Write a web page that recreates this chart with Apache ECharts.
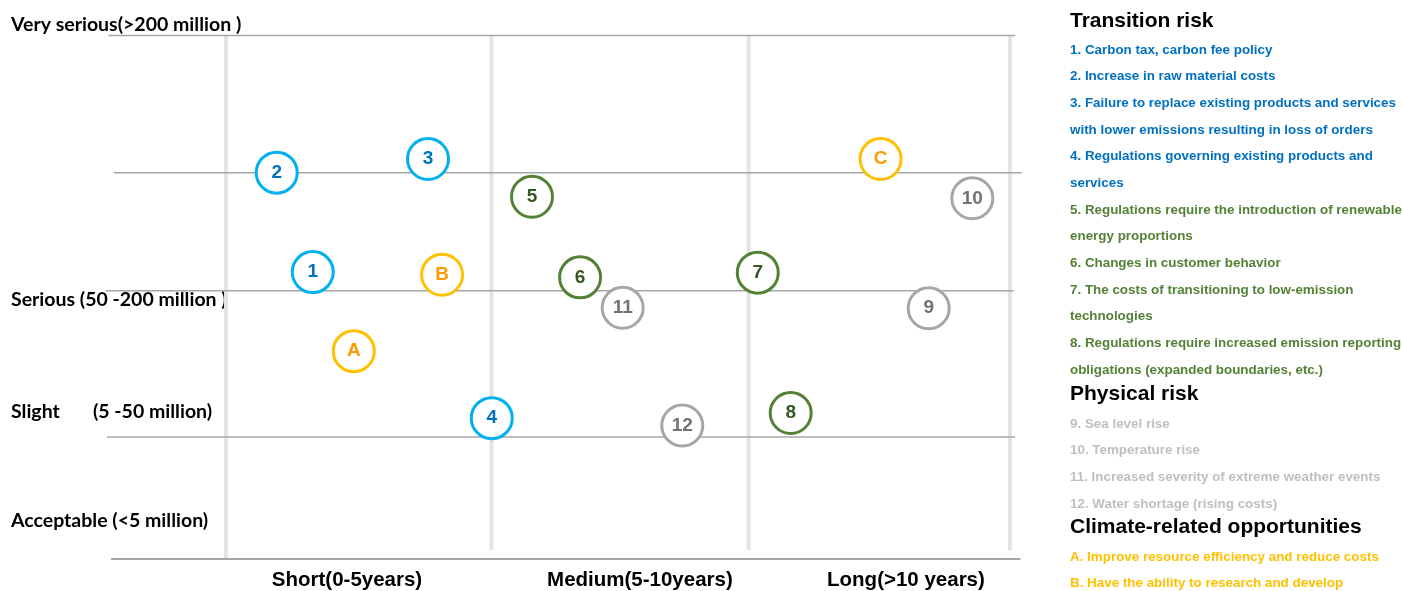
<!DOCTYPE html>
<html>
<head>
<meta charset="utf-8">
<script src="https://cdn.jsdelivr.net/npm/echarts@6/dist/echarts.min.js"></script>
<style>
  html, body { margin: 0; padding: 0; background: #ffffff; }
  #chart { width: 1402px; height: 591px; }
</style>
</head>
<body>
<div id="chart"></div>
<script>
// Time horizon (x) and financial impact (y) scales
const periodLabels = ['Short(0-5years)', 'Medium(5-10years)', 'Long(>10 years)'];
const periodLabelAt = [0.463, 1.584, 2.602];
const periodBounds = [0, 1.016, 2.0, 3.0];
const periodBoundBottoms = [0, 1.7, 1.7, 1.7];

const severityLabels = ['Very serious(>200 million )', 'Serious (50 -200 million )', 'Slight       (5 -50 million)', 'Acceptable (<5 million)'];
const severityLabelAt = [102.0, 49.5, 28.1, 7.3];
const bandLevels = [100, 73.8, 51.25, 23.3, 0];
const bandStarts = [-0.45, -0.43, -0.46, -0.455, -0.44];
const bandEnds = [3.02, 3.045, 3.015, 3.02, 3.04];

// Transition risk: policy & market (1-4)
const policyIds = ['1', '2', '3', '4'];
const policyHorizon = [0.332, 0.194, 0.773, 1.017];
const policyImpact = [54.8, 73.8, 76.4, 26.9];

// Transition risk: regulation, customers & technology (5-8)
const regulationIds = ['5', '6', '7', '8'];
const regulationHorizon = [1.171, 1.355, 2.035, 2.161];
const regulationImpact = [69.2, 53.8, 54.7, 27.9];

// Physical risk (9-12)
const physicalIds = ['9', '10', '11', '12'];
const physicalHorizon = [2.689, 2.856, 1.518, 1.746];
const physicalImpact = [47.9, 68.9, 48.0, 25.5];

// Climate-related opportunities (A-C)
const opportunityIds = ['A', 'B', 'C'];
const opportunityHorizon = [0.489, 0.827, 2.505];
const opportunityImpact = [39.7, 54.3, 76.4];

// Key texts
const transitionTitle = 'Transition risk';
const transitionBlueLines = [
  '1. Carbon tax, carbon fee policy',
  '2. Increase in raw material costs',
  '3. Failure to replace existing products and services',
  'with lower emissions resulting in loss of orders',
  '4. Regulations governing existing products and',
  'services'
];
const transitionGreenLines = [
  '5. Regulations require the introduction of renewable',
  'energy proportions',
  '6. Changes in customer behavior',
  '7. The costs of transitioning to low-emission',
  'technologies',
  '8. Regulations require increased emission reporting',
  'obligations (expanded boundaries, etc.)'
];
const physicalTitle = 'Physical risk';
const physicalLines = [
  '9. Sea level rise',
  '10. Temperature rise',
  '11. Increased severity of extreme weather events',
  '12. Water shortage (rising costs)'
];
const opportunityTitle = 'Climate-related opportunities';
const opportunityLines = [
  'A. Improve resource efficiency and reduce costs',
  'B. Have the ability to research and develop'
];

const palette = {
  blueRing: '#00b0f0', blueText: '#0070c0',
  greenRing: '#538135', greenText: '#375623',
  grayRing: '#a6a6a6', grayText: '#767171', grayKey: '#bfbfbf',
  orangeRing: '#ffc000', orangeText: '#ff9900', orangeKey: '#ffc000'
};

function points(xs, ys, ids) {
  return ids.map((id, i) => ({ name: id, value: [xs[i], ys[i]] }));
}

function markerSeries(name, data, ring, text) {
  return {
    name: name,
    type: 'scatter',
    z: 5,
    clip: false,
    symbol: 'circle',
    symbolSize: 41,
    data: data,
    itemStyle: { color: '#ffffff', borderColor: ring, borderWidth: 3, opacity: 1 },
    label: {
      show: true,
      position: 'inside',
      formatter: p => p.name,
      color: text,
      fontFamily: 'Liberation Sans',
      fontWeight: 'bold',
      fontSize: 19
    },
    emphasis: { disabled: true }
  };
}

// Key on the right
const keyLeft = 1070;
const keyItemFont = 'bold 13.4px "Liberation Sans", Arial, sans-serif';
const keyTitleFont = 'bold 21px "Liberation Sans", Arial, sans-serif';
const keyGraphics = [];
function keyText(str, y, font, color) {
  keyGraphics.push({
    type: 'text', x: keyLeft, y: y, silent: true,
    style: { text: str, font: font, fill: color, verticalAlign: 'middle', align: 'left' }
  });
}
const step = 26.67;
keyText(transitionTitle, 21.5, keyTitleFont, '#000000');
let yKey = 50;
transitionBlueLines.forEach(s => { keyText(s, yKey, keyItemFont, palette.blueText); yKey += step; });
transitionGreenLines.forEach(s => { keyText(s, yKey, keyItemFont, palette.greenRing); yKey += step; });
keyText(physicalTitle, 394.5, keyTitleFont, '#000000');
yKey = 424;
physicalLines.forEach(s => { keyText(s, yKey, keyItemFont, palette.grayKey); yKey += step; });
keyText(opportunityTitle, 527.5, keyTitleFont, '#000000');
yKey = 557;
opportunityLines.forEach(s => { keyText(s, yKey, keyItemFont, palette.orangeKey); yKey += step; });

const chart = echarts.init(document.getElementById('chart'), null, { renderer: 'canvas' });

chart.setOption({
  animation: false,
  backgroundColor: '#ffffff',
  grid: { left: 103.2, right: 379, top: 14.56, bottom: 32 },
  xAxis: {
    type: 'value', min: -0.47, max: 3.05,
    axisLine: { show: false }, axisTick: { show: false }, splitLine: { show: false },
    axisLabel: {
      customValues: periodLabelAt,
      formatter: v => periodLabels[periodLabelAt.indexOf(v)],
      margin: 11,
      color: '#000000',
      fontFamily: 'Liberation Sans',
      fontWeight: 'bold',
      fontSize: 20.5
    }
  },
  yAxis: {
    type: 'value', min: 0, max: 104,
    axisLine: { show: false }, axisTick: { show: false }, splitLine: { show: false },
    axisLabel: {
      customValues: severityLabelAt,
      formatter: v => severityLabels[severityLabelAt.indexOf(v)],
      align: 'left',
      margin: 92.2,
      color: '#000000',
      fontFamily: 'Lato',
      fontWeight: 'bold',
      fontSize: 19.5
    }
  },
  graphic: keyGraphics,
  series: [
    {
      // column separators between time horizons
      type: 'custom', z: 1, clip: false, silent: true,
      data: periodBounds.map((x, i) => [x, 100, periodBoundBottoms[i]]),
      encode: { x: 0, y: [1, 2] },
      renderItem: (params, api) => {
        const top = api.coord([api.value(0), api.value(1)]);
        const bottom = api.coord([api.value(0), api.value(2)]);
        return {
          type: 'rect',
          shape: { x: top[0] - 2, y: top[1], width: 4, height: bottom[1] - top[1] },
          style: { fill: '#e4e4e4' }
        };
      }
    },
    {
      // impact band boundaries
      type: 'custom', z: 2, clip: false, silent: true,
      data: bandLevels.map((v, i) => [bandStarts[i], bandEnds[i], v]),
      encode: { x: [0, 1], y: 2 },
      renderItem: (params, api) => {
        const a = api.coord([api.value(0), api.value(2)]);
        const b = api.coord([api.value(1), api.value(2)]);
        return {
          type: 'line',
          shape: { x1: a[0], y1: a[1], x2: b[0], y2: b[1] },
          style: { stroke: '#a6a6a6', lineWidth: params.dataIndex === 4 ? 2 : 1.5 }
        };
      }
    },
    markerSeries('Policy & market', points(policyHorizon, policyImpact, policyIds), palette.blueRing, palette.blueText),
    markerSeries('Regulation & technology', points(regulationHorizon, regulationImpact, regulationIds), palette.greenRing, palette.greenText),
    markerSeries('Physical risk', points(physicalHorizon, physicalImpact, physicalIds), palette.grayRing, palette.grayText),
    markerSeries('Opportunities', points(opportunityHorizon, opportunityImpact, opportunityIds), palette.orangeRing, palette.orangeText)
  ]
});
</script>
</body>
</html>
